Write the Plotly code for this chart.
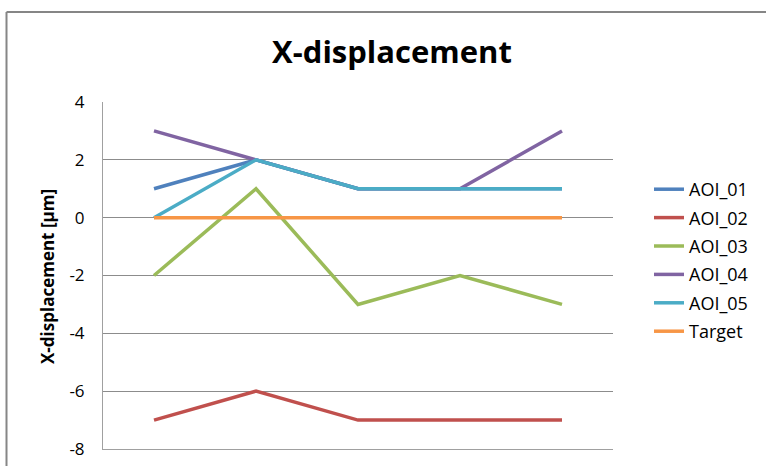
import plotly.graph_objects as go

# Measurement points along the x axis (five positions)
points = ["P1", "P2", "P3", "P4", "P5"]

# X-displacement per area of interest, in µm
aoi_01 = [1, 2, 1, 1, 1]
aoi_02 = [-7, -6, -7, -7, -7]
aoi_03 = [-2, 1, -3, -2, -3]
aoi_04 = [3, 2, 1, 1, 3]
aoi_05 = [0, 2, 1, 1, 1]
target = [0, 0, 0, 0, 0]

series_names = ["AOI_01", "AOI_02", "AOI_03", "AOI_04", "AOI_05", "Target"]
series_values = [aoi_01, aoi_02, aoi_03, aoi_04, aoi_05, target]
series_colors = ["#4F81BD", "#C0504D", "#9BBB59", "#8064A2", "#4BACC6", "#F79646"]

y_ticks = [-8, -6, -4, -2, 0, 2, 4]
y_tick_labels = ["-8", "-6", "-4", "-2", "0", "2", "4"]

FONT = "Open Sans"
W, H = 766, 466
ML, MR, MT, MB = 103, 153, 102, 17
PW, PH = W - ML - MR, H - MT - MB


def px_to_paper_x(px):
    return (px - ML) / PW


def px_to_paper_y(py):
    return (H - MB - py) / PH


fig = go.Figure()
for name, vals, col in zip(series_names, series_values, series_colors):
    fig.add_trace(go.Scatter(
        x=points, y=vals, name=name, mode="lines",
        line=dict(color=col, width=3.5),
        legendgroup=name,
    ))

fig.update_layout(
    width=W, height=H,
    margin=dict(l=ML, r=MR, t=MT, b=MB, autoexpand=False),
    paper_bgcolor="white", plot_bgcolor="white",
    font=dict(family=FONT, color="#000000"),
    title=dict(
        text="<b>X-displacement</b>",
        font=dict(family=FONT, size=31, color="#000000"),
        x=px_to_paper_x(392), xref="paper", xanchor="center",
        y=1 - 52 / H, yanchor="middle",
    ),
    showlegend=True,
    legend=dict(
        x=px_to_paper_x(649), xanchor="left",
        y=px_to_paper_y(171), yanchor="top",
        font=dict(family=FONT, size=18, color="#000000"),
        tracegroupgap=2,
        itemwidth=30,
        bgcolor="rgba(0,0,0,0)",
    ),
    xaxis=dict(
        showticklabels=False, showgrid=False, zeroline=False,
        showline=True, linecolor="#A0A0A0", linewidth=1,
        ticks="", range=[-0.5, 4.5], automargin=False,
    ),
    yaxis=dict(
        range=[-8, 4], tickvals=y_ticks, ticktext=y_tick_labels,
        showgrid=True, gridcolor="#8C8C8C", gridwidth=1,
        zeroline=False, automargin=False,
        showline=True, linecolor="#A0A0A0", linewidth=1,
        ticks="outside", ticklen=14, tickcolor="rgba(0,0,0,0)",
        tickfont=dict(family=FONT, size=17, color="#000000"),
    ),
    annotations=[dict(
        text="<b>X-displacement [µm]</b>",
        textangle=-90,
        x=px_to_paper_x(47), y=px_to_paper_y(277),
        xref="paper", yref="paper",
        xanchor="center", yanchor="middle",
        showarrow=False,
        font=dict(family=FONT, size=17, color="#000000"),
    )],
    shapes=[
        # chart area border (left and top edges visible)
        dict(type="line", xref="paper", yref="paper",
             x0=px_to_paper_x(6.5), x1=px_to_paper_x(6.5),
             y0=px_to_paper_y(12), y1=px_to_paper_y(520),
             line=dict(color="#868686", width=2)),
        dict(type="line", xref="paper", yref="paper",
             x0=px_to_paper_x(6.5), x1=px_to_paper_x(820),
             y0=px_to_paper_y(12), y1=px_to_paper_y(12),
             line=dict(color="#868686", width=2)),
    ],
)

fig.write_html("out.html")
